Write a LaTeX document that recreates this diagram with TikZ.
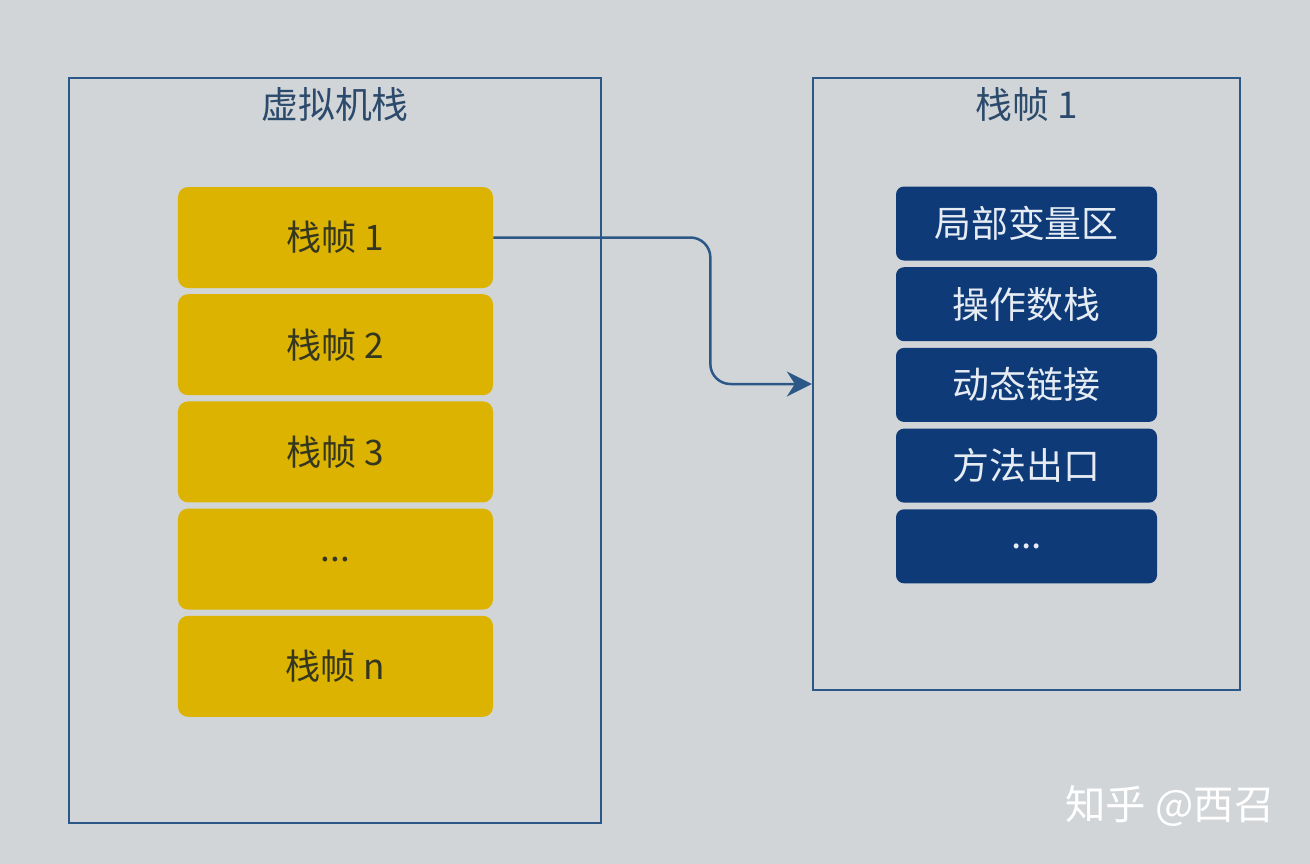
\documentclass[tikz,border=0pt]{standalone}
\usepackage{fontspec}
\setmainfont{Noto Sans CJK SC}
\usetikzlibrary{arrows.meta,positioning}

\definecolor{paper}{HTML}{D2D5D8}
\definecolor{frameline}{HTML}{2B5886}
\definecolor{titletext}{HTML}{2C4A6B}
\definecolor{slotfill}{HTML}{DBB300}
\definecolor{slottext}{HTML}{34361F}
\definecolor{partfill}{HTML}{0E3A78}
\definecolor{parttext}{HTML}{E6ECF3}

\begin{document}
\begin{tikzpicture}[x=0.2mm, y=-0.2mm,
    frame/.style={rectangle, draw=frameline, line width=0.45mm, fill=none},
    title/.style={text=titletext, font=\fontsize{21}{21}\selectfont, inner sep=0pt},
    slot/.style={rectangle, draw=none, rounded corners=2mm, fill=slotfill,
        minimum width=63mm, minimum height=20.2mm, text=slottext,
        font=\fontsize{20}{20}\selectfont, node distance=1.1mm},
    part/.style={rectangle, draw=none, rounded corners=1.6mm, fill=partfill,
        minimum width=52.2mm, minimum height=14.8mm, text=parttext,
        font=\fontsize{21}{21}\selectfont, node distance=1.2mm},
    link/.style={draw=frameline, line width=0.5mm, rounded corners=4mm,
        -{Stealth[length=5mm, width=5mm, inset=1.6mm]}},
    watermark/.style={text=white, font=\fontsize{23}{23}\selectfont, inner sep=0pt}
    ]
    \path[use as bounding box, fill=paper] (0,0) rectangle (1310,864);

    % virtual machine stack
    \node (VmStack) [frame, minimum width=106.4mm, minimum height=149mm] at (335,450.5) {};
    \node (VmStackTitle) [title] at ([yshift=-5.6mm]VmStack.north) {虚拟机栈};
    \node (Frame1) [slot] at (335.5,237.5) {栈帧 1};
    \node (Frame2) [slot, below=of Frame1] {栈帧 2};
    \node (Frame3) [slot, below=of Frame2] {栈帧 3};
    \node (FrameDots) [slot, below=of Frame3] {...};
    \node (FrameN) [slot, below=of FrameDots] {栈帧 n};

    % one stack frame
    \node (Detail) [frame, minimum width=85.4mm, minimum height=122.4mm] at (1026.5,384) {};
    \node (DetailTitle) [title] at ([yshift=-5.6mm]Detail.north) {栈帧 1};
    \node (Locals) [part] at (1026.5,223.5) {局部变量区};
    \node (Operands) [part, below=of Locals] {操作数栈};
    \node (Linking) [part, below=of Operands] {动态链接};
    \node (Return) [part, below=of Linking] {方法出口};
    \node (PartDots) [part, below=of Return] {...};

    \draw[link] (Frame1.east) -- ++(43.4mm,0) |- (Detail.west);

    \node (Mark) [watermark] at (1170,806) {知乎 @西召};
\end{tikzpicture}
\end{document}
